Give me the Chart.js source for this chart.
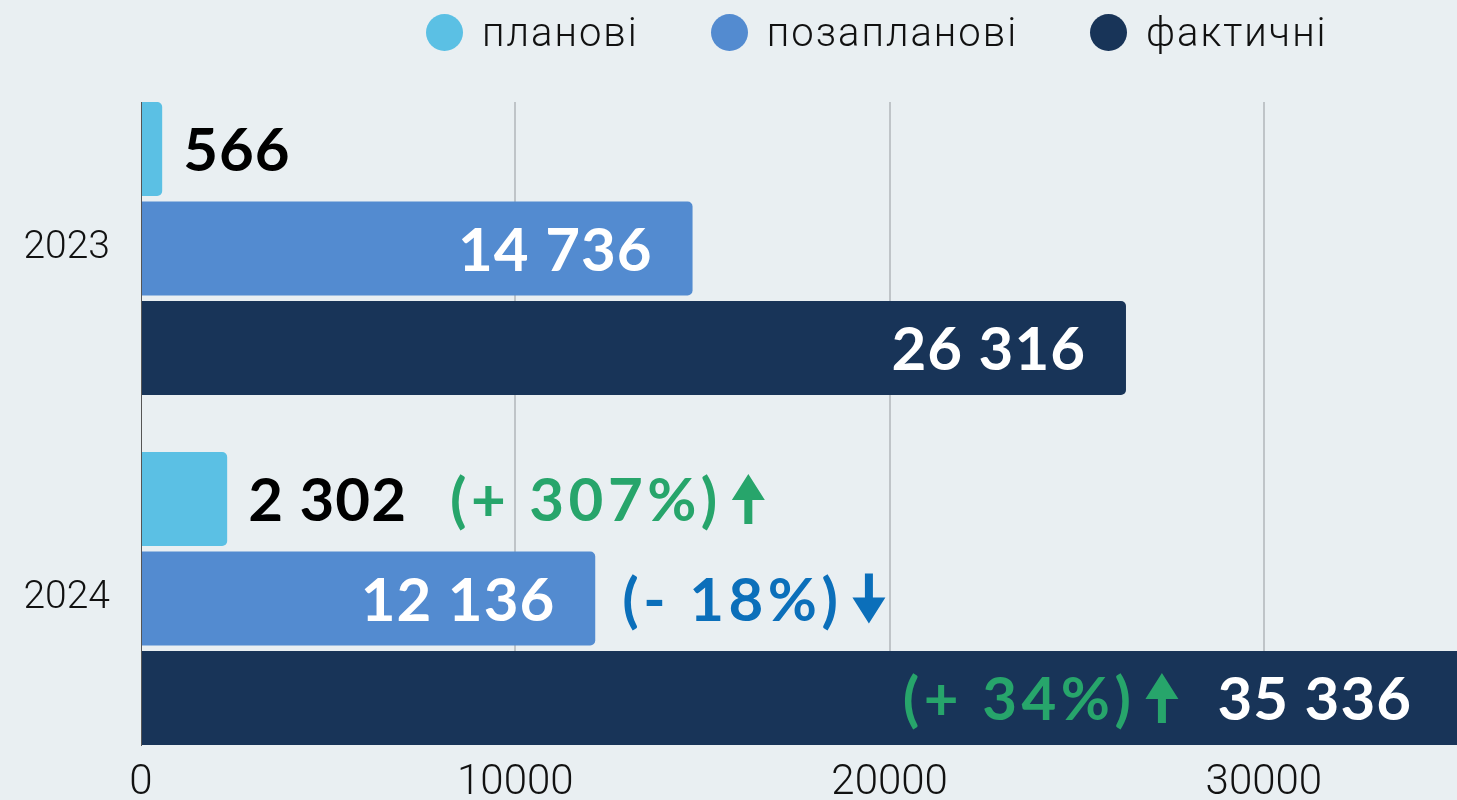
<!DOCTYPE html>
<html lang="uk">
<head>
<meta charset="utf-8">
<script src="https://cdn.jsdelivr.net/npm/chart.js@4"></script>
<style>
  html, body { margin: 0; padding: 0; background: #e9eff2; }
  #wrap { position: relative; width: 1457px; height: 800px; }
  #legend { position: absolute; top: 9px; left: 426px; display: flex; align-items: center;
            font-family: Roboto, "Liberation Sans", sans-serif; font-weight: 300; font-size: 40px;
            letter-spacing: 2px; color: #111; }
  .item { display: flex; align-items: center; margin-right: 72px; }
  .dot { width: 37px; height: 37px; border-radius: 50%; margin-right: 19px; }
</style>
</head>
<body>
<div id="wrap">
  <div id="legend"></div>
  <canvas id="chart"></canvas>
</div>
<script>
var years = ['2023', '2024'];
var seriesNames = ['планові', 'позапланові', 'фактичні'];
var planned = [566, 2302];
var unplanned = [14736, 12136];
var actual = [26316, 35336];
var plannedChange = ['', '+ 307%'];
var unplannedChange = ['', '- 18%'];
var actualChange = ['', '+ 34%'];
var xTicks = [0, 10000, 20000, 30000];
var colors = ['#5bc0e4', '#538bd0', '#183458'];

function fmt(v) {
    return String(v).replace(/\B(?=(\d{3})+(?!\d))/g, ' ');
}

function points(arr) {
    return arr.map(function(v, i) { return { x: v, y: i }; });
}

// legenda
var legend = document.getElementById('legend');
seriesNames.forEach(function(name, i) {
    var item = document.createElement('div');
    item.className = 'item';
    item.innerHTML = '<span class="dot" style="background:' + colors[i] + '"></span><span>' + name + '</span>';
    legend.appendChild(item);
});

function drawArrow(ctx, x, y, up) {
    var w = 33, h = 50, head = 26, stem = 8, d = up ? -1 : 1;
    var tip = y + d * h / 2, base = y - d * h / 2, neck = tip - d * head;
    ctx.beginPath();
    ctx.moveTo(x + w / 2, tip);
    ctx.lineTo(x + w, neck);
    ctx.lineTo(x + w / 2 + stem / 2, neck);
    ctx.lineTo(x + w / 2 + stem / 2, base);
    ctx.lineTo(x + w / 2 - stem / 2, base);
    ctx.lineTo(x + w / 2 - stem / 2, neck);
    ctx.lineTo(x, neck);
    ctx.closePath();
    ctx.fill();
}

// подписи значений и изменений
var valueLabels = {
    id: 'valueLabels',
    afterDatasetsDraw: function(chart) {
        var ctx = chart.ctx, area = chart.chartArea;
        ctx.save();
        ctx.font = '700 60px Lato, "Open Sans", sans-serif';
        ctx.textBaseline = 'middle';
        ctx.textAlign = 'left';
        chart.data.datasets.forEach(function(ds, i) {
            chart.getDatasetMeta(i).data.forEach(function(bar, j) {
                var txt = fmt(ds.data[j].x);
                ctx.letterSpacing = '1px';
                var w = ctx.measureText(txt).width;
                var end = Math.min(bar.x, area.right);
                var y = bar.y + 3;
                var inside = end - bar.base > w + 80;
                var start, stop;
                if (inside) {
                    stop = end - (bar.x > area.right ? 45 : 40);
                    start = stop - w;
                    ctx.fillStyle = '#ffffff';
                } else {
                    start = end + 21;
                    stop = start + w;
                    ctx.fillStyle = '#000000';
                }
                ctx.fillText(txt, start, y);

                var ch = ds.changes[j];
                if (!ch) return;
                var cTxt = '(' + ch + ')';
                ctx.letterSpacing = '4.5px';
                var cw = ctx.measureText(cTxt).width;
                var total = cw + 12 + 33;
                var cx;
                if (!inside) cx = stop + 43;
                else if (end + 27 + total < area.right) cx = end + 27;
                else cx = start - 37 - total;
                var up = ch.charAt(0) === '+';
                ctx.fillStyle = up ? '#27a56b' : '#0b6fba';
                ctx.fillText(cTxt, cx, y);
                drawArrow(ctx, cx + cw + 10, bar.y, up);
            });
        });
        ctx.restore();
    }
};

var tickFont = { family: 'Roboto, "Liberation Sans", sans-serif', weight: 300 };

new Chart(document.getElementById('chart'), {
    type: 'bar',
    data: {
        datasets: [
            { label: seriesNames[0], data: points(planned), changes: plannedChange, backgroundColor: colors[0] },
            { label: seriesNames[1], data: points(unplanned), changes: unplannedChange, backgroundColor: colors[1] },
            { label: seriesNames[2], data: points(actual), changes: actualChange, backgroundColor: colors[2] }
        ]
    },
    options: {
        indexAxis: 'y',
        responsive: true,
        maintainAspectRatio: false,
        animation: false,
        layout: { padding: { top: 102, right: 0, bottom: 0, left: 0 } },
        plugins: { legend: { display: false }, tooltip: { enabled: false } },
        datasets: {
            bar: { categoryPercentage: 0.853, barPercentage: 0.945, borderRadius: 5, borderSkipped: 'start' }
        },
        scales: {
            x: {
                type: 'linear',
                min: 0,
                max: 35160,
                afterBuildTicks: function(s) { s.ticks = xTicks.map(function(v) { return { value: v }; }); },
                afterFit: function(s) { s.height = 55; },
                grid: {
                    color: function(c) { return c.tick && c.tick.value === 0 ? 'rgba(0,0,0,0)' : '#bfc4c8'; },
                    lineWidth: 2,
                    drawTicks: false
                },
                border: { display: false },
                ticks: {
                    padding: 13,
                    color: '#111',
                    font: Object.assign({ size: 42 }, tickFont),
                    callback: function(v) { return String(v); }
                }
            },
            y: {
                type: 'linear',
                offset: false,
                reverse: true,
                min: -0.4185,
                max: 1.4185,
                afterBuildTicks: function(s) { s.ticks = years.map(function(_, i) { return { value: i }; }); },
                afterFit: function(s) { s.width = 141; },
                grid: { display: false },
                border: { display: true, color: '#555', width: 1 },
                ticks: {
                    padding: 23,
                    color: '#111',
                    font: Object.assign({ size: 39 }, tickFont),
                    callback: function(v) { return years[v]; }
                }
            }
        }
    },
    plugins: [valueLabels]
});
</script>
</body>
</html>
